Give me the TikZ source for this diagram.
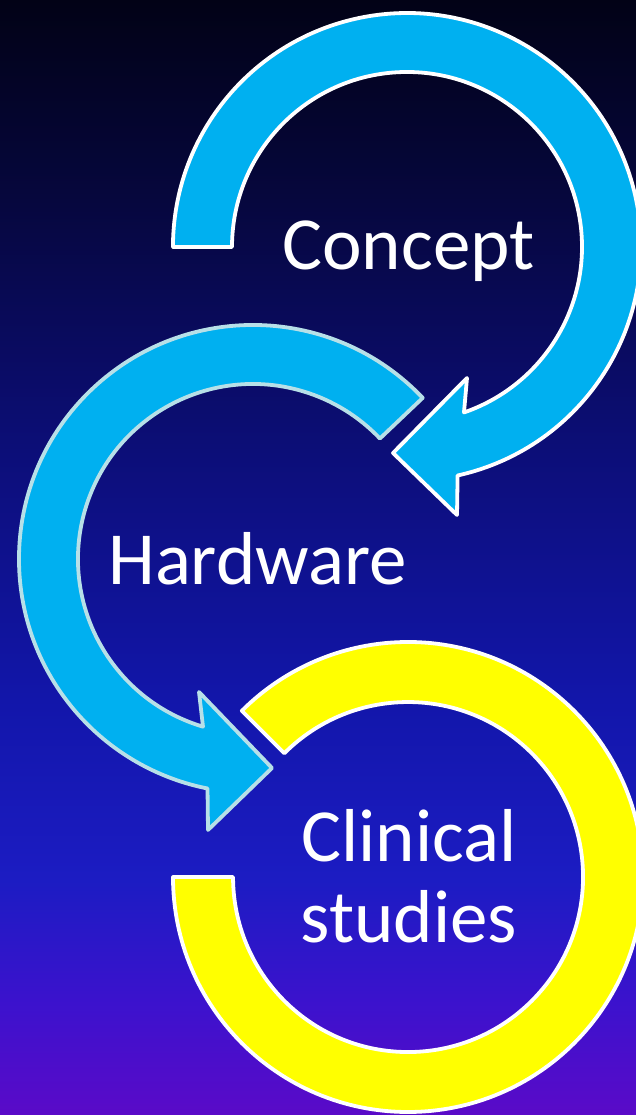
\documentclass[tikz,border=0pt]{standalone}
\usepackage{fontspec}
\setmainfont{Carlito}
\definecolor{cyanfill}{RGB}{0,176,240}
\definecolor{yellowfill}{RGB}{255,255,0}
\definecolor{hwline}{RGB}{183,224,232}
\definecolor{bgA}{RGB}{90,10,200}
\definecolor{bgB}{RGB}{60,18,205}
\definecolor{bgC}{RGB}{28,28,195}
\definecolor{bgD}{RGB}{18,22,170}
\definecolor{bgE}{RGB}{12,14,120}
\definecolor{bgF}{RGB}{6,7,62}
\definecolor{bgG}{RGB}{2,2,22}
\pgfdeclareverticalshading{bgshade}{100bp}{color(0bp)=(bgA); color(25bp)=(bgA); color(30bp)=(bgB); color(35.5bp)=(bgC); color(43.6bp)=(bgD); color(54.8bp)=(bgE); color(66bp)=(bgF); color(75bp)=(bgG); color(100bp)=(bgG)}
\begin{document}
\begin{tikzpicture}[x=1pt,y=1pt,
  ringshape/.style={line width=3.8pt, line join=round},
  lbl/.style={text=white, font=\fontsize{75}{81}\selectfont, inner sep=0pt, anchor=base}]
\useasboundingbox (0,0) rectangle (636,1115);
\shade[shading=bgshade] (0,0) rectangle (636,1115);
% Concept arrow
\draw[ringshape, fill=cyanfill, draw=white]
  (173,868) -- (232,868) arc[start angle=180, end angle=-71, radius=175]
  -- (467,737) -- (393,662) -- (457,600) -- (457.6,639.5)
  arc[start angle=-77.5, end angle=180, radius=234] -- cycle;
% Hardware arrow
\draw[ringshape, fill=cyanfill, draw=hwline]
  (422.7,717.1) arc[start angle=43.5, end angle=258.8, radius=234]
  -- (208,285) -- (272,347) -- (199,423) -- (203,388.3)
  arc[start angle=253.4, end angle=43.5, radius=175] -- cycle;
% Clinical ring
\draw[ringshape, fill=yellowfill, draw=white]
  (173,238) arc[start angle=180, end angle=495, radius=235]
  -- (284.3,361.7) arc[start angle=495, end angle=180, radius=175] -- cycle;
\node[lbl] (concept) at (408.5,845) {Concept};
\node[lbl] (hardware) at (257.5,530) {Hardware};
\node[lbl] (clinical) at (409,253) {Clinical};
\node[lbl] (studies) at (409,172) {studies};
\end{tikzpicture}
\end{document}
